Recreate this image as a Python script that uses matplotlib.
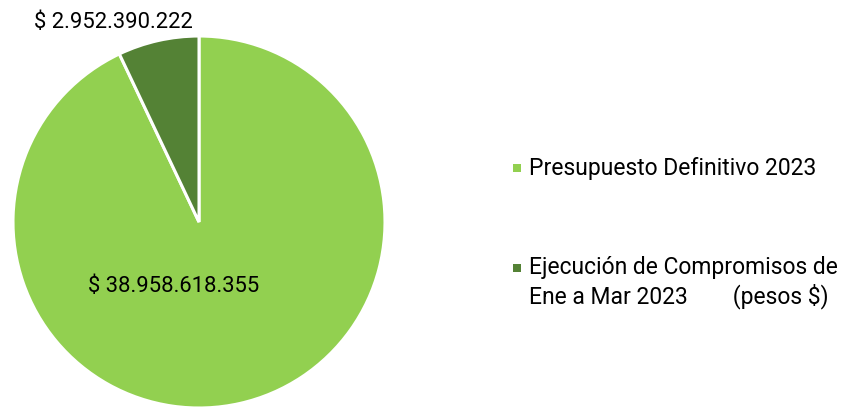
import matplotlib.pyplot as plt
from matplotlib.patches import Rectangle

plt.rcParams['font.family'] = ['Roboto', 'DejaVu Sans']

# Data
labels = ['Presupuesto Definitivo 2023',
          'Ejecución de Compromisos de\nEne a Mar 2023        (pesos $)']
values = [38958618355, 2952390222]
value_labels = ['$ 38.958.618.355', '$ 2.952.390.222']
colors = ['#92D050', '#548235']

fig = plt.figure(figsize=(8.47, 4.09), dpi=100)
ax = fig.add_axes([0.01535, 0.00244, 0.4392, 0.9095])

wedges, _ = ax.pie(values, colors=colors, startangle=90, counterclock=False,
                   wedgeprops=dict(edgecolor='white', linewidth=2.2))
ax.set_xlim(-1, 1)
ax.set_ylim(-1, 1)
ax.set_aspect('equal')

# value labels
ax.text(-0.135, -0.345, value_labels[0], fontsize=15.8, ha='center', va='center')
ax.text(-0.462, 1.07, value_labels[1], fontsize=15.8, ha='center', va='center')

# legend drawn by hand
leg_y = [168, 282.5]
for lab, col, y in zip(labels, colors, leg_y):
    fy = 1 - y / 409
    my = fy if '\n' not in lab else 1 - 268 / 409
    fig.patches.append(Rectangle((513 / 847, my - 4 / 409), 8 / 847, 8 / 409,
                                 facecolor=col, transform=fig.transFigure))
    fig.text(529 / 847, fy, lab, fontsize=16.5, ha='left', va='center',
             linespacing=1.25)

fig.savefig('out.png', dpi=100)
